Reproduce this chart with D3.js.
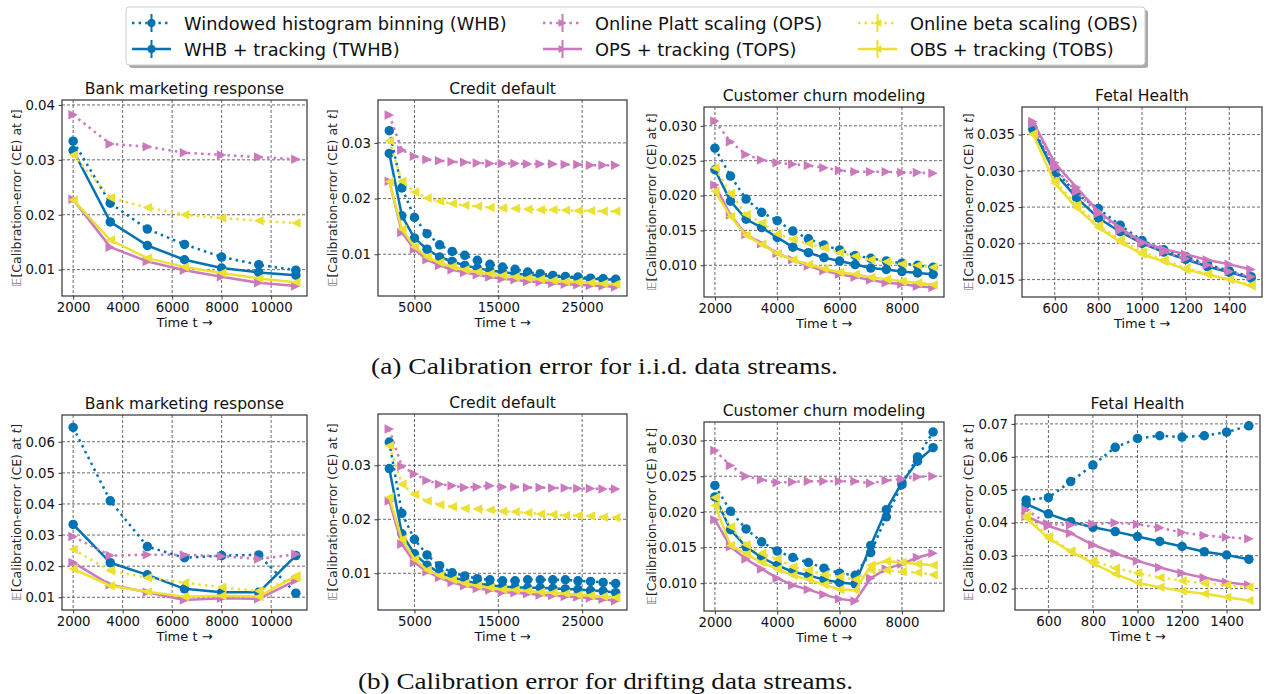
<!DOCTYPE html>
<html><head><meta charset="utf-8">
<script src="https://cdn.jsdelivr.net/npm/d3@7/dist/d3.min.js"></script>
<style>body{margin:0;background:#fff} svg{display:block}</style>
</head><body>
<svg id="chart" width="1269" height="694"></svg>
<script>
// ---------------- data ----------------
const timesBank = [2000, 3500, 5000, 6500, 8000, 9500, 11000];
const timesCredit = [2000, 3500, 5000, 6500, 8000, 9500, 11000, 12500, 14000, 15500, 17000, 18500, 20000, 21500, 23000, 24500, 26000, 27500, 29000];
const timesChurn = [2000, 2500, 3000, 3500, 4000, 4500, 5000, 5500, 6000, 6500, 7000, 7500, 8000, 8500, 9000];
const timesFetal = [500, 600, 700, 800, 900, 1000, 1100, 1200, 1300, 1400, 1500];

const seriesKeys = ["WHB", "TWHB", "OPS", "TOPS", "OBS", "TOBS"];
const legendLabels = ["Windowed histogram binning (WHB)", "WHB + tracking (TWHB)", "Online Platt scaling (OPS)", "OPS + tracking (TOPS)", "Online beta scaling (OBS)", "OBS + tracking (TOBS)"];
const panelTitles = ["Bank marketing response", "Credit default", "Customer churn modeling", "Fetal Health"];
const captions = ["(a) Calibration error for i.i.d. data streams.", "(b) Calibration error for drifting data streams."];

// i.i.d. streams
const bankIidWHB = [0.0334, 0.0221, 0.0174, 0.0146, 0.0123, 0.0109, 0.0099];
const bankIidTWHB = [0.0317, 0.0187, 0.0144, 0.0118, 0.0103, 0.0095, 0.0090];
const bankIidOPS = [0.0382, 0.0329, 0.0324, 0.0313, 0.0309, 0.0305, 0.0301];
const bankIidTOPS = [0.0228, 0.0141, 0.0115, 0.0099, 0.0087, 0.0076, 0.0070];
const bankIidOBS = [0.0309, 0.0231, 0.0213, 0.0200, 0.0194, 0.0189, 0.0185];
const bankIidTOBS = [0.0227, 0.0154, 0.0121, 0.0105, 0.0094, 0.0084, 0.0077];

const creditIidWHB = [0.0322, 0.0219, 0.0166, 0.0137, 0.0117, 0.0105, 0.0098, 0.0089, 0.0082, 0.0077, 0.0073, 0.0068, 0.0065, 0.0062, 0.0060, 0.0059, 0.0057, 0.0056, 0.0055];
const creditIidTWHB = [0.0281, 0.0169, 0.0129, 0.0109, 0.0095, 0.0087, 0.0080, 0.0075, 0.0071, 0.0068, 0.0065, 0.0063, 0.0062, 0.0060, 0.0059, 0.0057, 0.0056, 0.0055, 0.0054];
const creditIidOPS = [0.0350, 0.0287, 0.0276, 0.0270, 0.0268, 0.0266, 0.0265, 0.0264, 0.0263, 0.0263, 0.0263, 0.0262, 0.0262, 0.0262, 0.0261, 0.0261, 0.0260, 0.0260, 0.0260];
const creditIidTOPS = [0.0231, 0.0139, 0.0109, 0.0090, 0.0080, 0.0072, 0.0067, 0.0063, 0.0059, 0.0056, 0.0054, 0.0051, 0.0050, 0.0048, 0.0046, 0.0045, 0.0044, 0.0043, 0.0041];
const creditIidOBS = [0.0304, 0.0231, 0.0212, 0.0201, 0.0195, 0.0191, 0.0188, 0.0186, 0.0184, 0.0183, 0.0182, 0.0181, 0.0180, 0.0180, 0.0179, 0.0178, 0.0178, 0.0177, 0.0177];
const creditIidTOBS = [0.0230, 0.0145, 0.0113, 0.0095, 0.0085, 0.0078, 0.0072, 0.0068, 0.0065, 0.0062, 0.0059, 0.0057, 0.0055, 0.0053, 0.0051, 0.0050, 0.0049, 0.0047, 0.0046];

const churnIidWHB = [0.0268, 0.0228, 0.0195, 0.0176, 0.0164, 0.0149, 0.0138, 0.0129, 0.0122, 0.0114, 0.0110, 0.0106, 0.0103, 0.0100, 0.0097];
const churnIidTWHB = [0.0237, 0.0192, 0.0166, 0.0154, 0.0140, 0.0126, 0.0118, 0.0111, 0.0106, 0.0101, 0.0096, 0.0094, 0.0091, 0.0089, 0.0087];
const churnIidOPS = [0.0307, 0.0277, 0.0259, 0.0251, 0.0247, 0.0245, 0.0243, 0.0240, 0.0236, 0.0234, 0.0234, 0.0234, 0.0233, 0.0233, 0.0232];
const churnIidTOPS = [0.0215, 0.0172, 0.0144, 0.0131, 0.0117, 0.0108, 0.0099, 0.0092, 0.0087, 0.0083, 0.0079, 0.0075, 0.0073, 0.0070, 0.0068];
const churnIidOBS = [0.0240, 0.0203, 0.0173, 0.0161, 0.0145, 0.0137, 0.0131, 0.0125, 0.0118, 0.0113, 0.0108, 0.0105, 0.0102, 0.0100, 0.0097];
const churnIidTOBS = [0.0206, 0.0170, 0.0143, 0.0130, 0.0117, 0.0108, 0.0101, 0.0095, 0.0090, 0.0087, 0.0083, 0.0080, 0.0077, 0.0075, 0.0072];

const fetalIidWHB = [0.0359, 0.0302, 0.0268, 0.0248, 0.0225, 0.0204, 0.0191, 0.0182, 0.0171, 0.0162, 0.0154];
const fetalIidTWHB = [0.0357, 0.0297, 0.0263, 0.0235, 0.0216, 0.0200, 0.0188, 0.0178, 0.0168, 0.0160, 0.0152];
const fetalIidOPS = [0.0365, 0.0304, 0.0271, 0.0241, 0.0218, 0.0200, 0.0188, 0.0179, 0.0170, 0.0161, 0.0154];
const fetalIidTOPS = [0.0368, 0.0311, 0.0277, 0.0244, 0.0221, 0.0202, 0.0192, 0.0185, 0.0177, 0.0171, 0.0164];
const fetalIidOBS = [0.0350, 0.0286, 0.0253, 0.0225, 0.0205, 0.0188, 0.0177, 0.0166, 0.0158, 0.0150, 0.0143];
const fetalIidTOBS = [0.0351, 0.0283, 0.0249, 0.0222, 0.0202, 0.0185, 0.0175, 0.0164, 0.0157, 0.0150, 0.0141];

// drifting streams
const bankDriftWHB = [0.0646, 0.0410, 0.0263, 0.0227, 0.0234, 0.0236, 0.0113];
const bankDriftTWHB = [0.0334, 0.0211, 0.0172, 0.0127, 0.0116, 0.0116, 0.0234];
const bankDriftOPS = [0.0295, 0.0234, 0.0237, 0.0236, 0.0232, 0.0223, 0.0238];
const bankDriftTOPS = [0.0212, 0.0140, 0.0116, 0.0091, 0.0097, 0.0095, 0.0154];
const bankDriftOBS = [0.0254, 0.0185, 0.0163, 0.0147, 0.0132, 0.0120, 0.0163];
const bankDriftTOBS = [0.0191, 0.0137, 0.0118, 0.0102, 0.0105, 0.0102, 0.0169];

const creditDriftWHB = [0.0343, 0.0211, 0.0163, 0.0134, 0.0114, 0.0101, 0.0095, 0.0090, 0.0088, 0.0086, 0.0086, 0.0088, 0.0088, 0.0088, 0.0088, 0.0086, 0.0085, 0.0083, 0.0081];
const creditDriftTWHB = [0.0294, 0.0173, 0.0136, 0.0115, 0.0101, 0.0093, 0.0086, 0.0081, 0.0078, 0.0075, 0.0074, 0.0073, 0.0073, 0.0072, 0.0071, 0.0070, 0.0068, 0.0067, 0.0064];
const creditDriftOPS = [0.0367, 0.0298, 0.0284, 0.0272, 0.0265, 0.0262, 0.0259, 0.0260, 0.0262, 0.0260, 0.0260, 0.0259, 0.0259, 0.0258, 0.0258, 0.0257, 0.0257, 0.0256, 0.0256];
const creditDriftTOPS = [0.0234, 0.0154, 0.0120, 0.0103, 0.0092, 0.0083, 0.0077, 0.0072, 0.0069, 0.0065, 0.0064, 0.0062, 0.0060, 0.0059, 0.0057, 0.0056, 0.0054, 0.0052, 0.0049];
const creditDriftOBS = [0.0336, 0.0265, 0.0246, 0.0234, 0.0227, 0.0223, 0.0220, 0.0219, 0.0217, 0.0215, 0.0214, 0.0212, 0.0210, 0.0209, 0.0207, 0.0207, 0.0206, 0.0204, 0.0203];
const creditDriftTOBS = [0.0241, 0.0163, 0.0126, 0.0106, 0.0096, 0.0088, 0.0081, 0.0077, 0.0073, 0.0070, 0.0069, 0.0067, 0.0065, 0.0064, 0.0062, 0.0060, 0.0059, 0.0057, 0.0055];

const churnDriftWHB = [0.0237, 0.0201, 0.0176, 0.0158, 0.0145, 0.0136, 0.0129, 0.0121, 0.0114, 0.0111, 0.0143, 0.0193, 0.0238, 0.0277, 0.0312];
const churnDriftTWHB = [0.0221, 0.0175, 0.0151, 0.0136, 0.0125, 0.0116, 0.0111, 0.0105, 0.0101, 0.0099, 0.0153, 0.0203, 0.0241, 0.0271, 0.0290];
const churnDriftOPS = [0.0286, 0.0265, 0.0250, 0.0245, 0.0241, 0.0242, 0.0243, 0.0243, 0.0243, 0.0243, 0.0240, 0.0244, 0.0246, 0.0249, 0.0250];
const churnDriftTOPS = [0.0189, 0.0151, 0.0134, 0.0120, 0.0107, 0.0097, 0.0091, 0.0084, 0.0078, 0.0075, 0.0107, 0.0120, 0.0127, 0.0136, 0.0142];
const churnDriftOBS = [0.0220, 0.0179, 0.0154, 0.0142, 0.0134, 0.0123, 0.0118, 0.0112, 0.0109, 0.0105, 0.0118, 0.0118, 0.0116, 0.0115, 0.0112];
const churnDriftTOBS = [0.0209, 0.0153, 0.0141, 0.0129, 0.0120, 0.0111, 0.0105, 0.0098, 0.0091, 0.0090, 0.0125, 0.0131, 0.0129, 0.0127, 0.0125];

const fetalDriftWHB = [0.0469, 0.0476, 0.0525, 0.0575, 0.0629, 0.0656, 0.0664, 0.0660, 0.0664, 0.0675, 0.0694];
const fetalDriftTWHB = [0.0457, 0.0427, 0.0403, 0.0386, 0.0373, 0.0358, 0.0343, 0.0328, 0.0312, 0.0302, 0.0289];
const fetalDriftOPS = [0.0439, 0.0396, 0.0393, 0.0396, 0.0400, 0.0395, 0.0385, 0.0370, 0.0361, 0.0356, 0.0351];
const fetalDriftTOPS = [0.0419, 0.0390, 0.0368, 0.0333, 0.0307, 0.0284, 0.0264, 0.0247, 0.0233, 0.0219, 0.0211];
const fetalDriftOBS = [0.0421, 0.0358, 0.0314, 0.0285, 0.0262, 0.0247, 0.0234, 0.0224, 0.0216, 0.0211, 0.0204];
const fetalDriftTOBS = [0.0414, 0.0353, 0.0312, 0.0277, 0.0244, 0.0218, 0.0204, 0.0193, 0.0184, 0.0174, 0.0164];

// tick labels
const xTicksBank = [2000, 4000, 6000, 8000, 10000];
const xTicksCredit = [5000, 15000, 25000];
const xTicksChurn = [2000, 4000, 6000, 8000];
const xTicksFetal = [600, 800, 1000, 1200, 1400];
const yTicksBankIid = [0.01, 0.02, 0.03, 0.04];
const yTicksCreditIid = [0.01, 0.02, 0.03];
const yTicksChurnIid = [0.010, 0.015, 0.020, 0.025, 0.030];
const yTicksFetalIid = [0.015, 0.020, 0.025, 0.030, 0.035];
const yTicksBankDrift = [0.01, 0.02, 0.03, 0.04, 0.05, 0.06];
const yTicksCreditDrift = [0.01, 0.02, 0.03];
const yTicksChurnDrift = [0.010, 0.015, 0.020, 0.025, 0.030];
const yTicksFetalDrift = [0.02, 0.03, 0.04, 0.05, 0.06, 0.07];

// ---------------- styles / layout ----------------
const colors = {WHB: "#0173b2", TWHB: "#0173b2", OPS: "#cc78bc", TOPS: "#cc78bc", OBS: "#ece133", TOBS: "#ece133"};
const dotted = {WHB: true, TWHB: false, OPS: true, TOPS: false, OBS: true, TOBS: false};
const markers = {WHB: "o", TWHB: "o", OPS: ">", TOPS: ">", OBS: "<", TOBS: "<"};

const panels = [
  {title: panelTitles[0], times: timesBank, data: [bankIidWHB, bankIidTWHB, bankIidOPS, bankIidTOPS, bankIidOBS, bankIidTOBS], xTicks: xTicksBank, yTicks: yTicksBankIid, yFmt: ".2f", box: [62, 100, 307, 296], xLim: [1550, 11450], yLim: [0.0052, 0.0409], ylabX: 17},
  {title: panelTitles[1], times: timesCredit, data: [creditIidWHB, creditIidTWHB, creditIidOPS, creditIidTOPS, creditIidOBS, creditIidTOBS], xTicks: xTicksCredit, yTicks: yTicksCreditIid, yFmt: ".2f", box: [378, 100, 627, 296], xLim: [650, 30350], yLim: [0.0025, 0.0377], ylabX: 333},
  {title: panelTitles[2], times: timesChurn, data: [churnIidWHB, churnIidTWHB, churnIidOPS, churnIidTOPS, churnIidOBS, churnIidTOBS], xTicks: xTicksChurn, yTicks: yTicksChurnIid, yFmt: ".3f", box: [704, 107, 944, 297], xLim: [1650, 9350], yLim: [0.00545, 0.0327], ylabX: 652},
  {title: panelTitles[3], times: timesFetal, data: [fetalIidWHB, fetalIidTWHB, fetalIidOPS, fetalIidTOPS, fetalIidOBS, fetalIidTOBS], xTicks: xTicksFetal, yTicks: yTicksFetalIid, yFmt: ".3f", box: [1022, 107, 1262, 297], xLim: [450, 1550], yLim: [0.0126, 0.0388], ylabX: 969},
  {title: panelTitles[0], times: timesBank, data: [bankDriftWHB, bankDriftTWHB, bankDriftOPS, bankDriftTOPS, bankDriftOBS, bankDriftTOBS], xTicks: xTicksBank, yTicks: yTicksBankDrift, yFmt: ".2f", box: [62, 415, 307, 610], xLim: [1550, 11450], yLim: [0.0059, 0.0686], ylabX: 17},
  {title: panelTitles[1], times: timesCredit, data: [creditDriftWHB, creditDriftTWHB, creditDriftOPS, creditDriftTOPS, creditDriftOBS, creditDriftTOBS], xTicks: xTicksCredit, yTicks: yTicksCreditDrift, yFmt: ".2f", box: [378, 414, 627, 610], xLim: [650, 30350], yLim: [0.0032, 0.0395], ylabX: 333},
  {title: panelTitles[2], times: timesChurn, data: [churnDriftWHB, churnDriftTWHB, churnDriftOPS, churnDriftTOPS, churnDriftOBS, churnDriftTOBS], xTicks: xTicksChurn, yTicks: yTicksChurnDrift, yFmt: ".3f", box: [704, 422, 944, 611], xLim: [1650, 9350], yLim: [0.0061, 0.0326], ylabX: 652},
  {title: panelTitles[3], times: timesFetal, data: [fetalDriftWHB, fetalDriftTWHB, fetalDriftOPS, fetalDriftTOPS, fetalDriftOBS, fetalDriftTOBS], xTicks: xTicksFetal, yTicks: yTicksFetalDrift, yFmt: ".2f", box: [1015, 415, 1260, 610], xLim: [450, 1550], yLim: [0.0135, 0.0727], ylabX: 969}
];

const FONT = "'DejaVu Sans', sans-serif";
const LW = 2.5, MS = 9.5;
const svg = d3.select("#chart");

function markerPath(type, ms) {
  const h = ms / 2;
  if (type === "o") return d3.symbol(d3.symbolCircle, Math.PI * h * h)();
  if (type === ">") return `M${h},0L${-h},${-h}L${-h},${h}Z`;
  return `M${-h},0L${h},${-h}L${h},${h}Z`;
}

panels.forEach(p => {
  const [x0, y0, x1, y1] = p.box;
  const x = d3.scaleLinear().domain(p.xLim).range([x0, x1]);
  const y = d3.scaleLinear().domain(p.yLim).range([y1, y0]);
  const g = svg.append("g");

  // grid
  g.append("g").selectAll("line").data(p.xTicks).join("line")
    .attr("x1", d => x(d)).attr("x2", d => x(d)).attr("y1", y0).attr("y2", y1)
    .attr("stroke", "#444").attr("stroke-width", 0.8).attr("stroke-dasharray", "3,2");
  g.append("g").selectAll("line").data(p.yTicks).join("line")
    .attr("y1", d => y(d)).attr("y2", d => y(d)).attr("x1", x0).attr("x2", x1)
    .attr("stroke", "#444").attr("stroke-width", 0.8).attr("stroke-dasharray", "3,2");

  // axes
  const xa = g.append("g").attr("transform", `translate(0,${y1})`)
    .call(d3.axisBottom(x).tickValues(p.xTicks).tickFormat(d3.format("d")).tickSize(3.5).tickPadding(3.5));
  const ya = g.append("g").attr("transform", `translate(${x0},0)`)
    .call(d3.axisLeft(y).tickValues(p.yTicks).tickFormat(d3.format(p.yFmt)).tickSize(3.5).tickPadding(3.5));
  [xa, ya].forEach(a => {
    a.select(".domain").remove();
    a.selectAll(".tick line").attr("stroke", "#222").attr("stroke-width", 0.9);
    a.selectAll(".tick text").attr("fill", "#111").style("font-family", FONT).style("font-size", "13.3px");
  });

  // series
  const line = d3.line().x(d => x(d[0])).y(d => y(d[1]));
  seriesKeys.forEach((k, i) => {
    const pts = p.times.map((t, j) => [t, p.data[i][j]]);
    const s = g.append("g");
    s.append("path").datum(pts).attr("d", line)
      .attr("fill", "none").attr("stroke", colors[k]).attr("stroke-width", LW)
      .attr("stroke-dasharray", dotted[k] ? "2.5,4.1" : null)
      .attr("stroke-linejoin", "round");
    s.selectAll("path.m").data(pts).join("path").attr("class", "m")
      .attr("transform", d => `translate(${x(d[0])},${y(d[1])})`)
      .attr("d", markerPath(markers[k], MS)).attr("fill", colors[k]);
  });

  // spines
  g.append("rect").attr("x", x0).attr("y", y0).attr("width", x1 - x0).attr("height", y1 - y0)
    .attr("fill", "none").attr("stroke", "#333").attr("stroke-width", 1.2);

  // title
  g.append("text").attr("x", (x0 + x1) / 2).attr("y", y0 - 6).attr("text-anchor", "middle")
    .style("font-family", FONT).style("font-size", "15.6px").attr("fill", "#111").text(p.title);
  // x label
  g.append("text").attr("x", (x0 + x1) / 2).attr("y", y1 + 31).attr("text-anchor", "middle")
    .style("font-family", FONT).style("font-size", "13px").attr("fill", "#111").text("Time t  \u2192");
  // y label
  const yl = g.append("text").attr("transform", `translate(${p.ylabX + 4},${(y0 + y1) / 2}) rotate(-90)`)
    .attr("text-anchor", "middle").style("font-family", FONT).style("font-size", "12.5px").attr("fill", "#222");
  yl.append("tspan").attr("fill", "#777").text("\u{1D53C}");
  yl.append("tspan").text("[Calibration-error (CE) at ");
  yl.append("tspan").style("font-style", "italic").text("t");
  yl.append("tspan").text("]");
});

// captions
const capWidths = [467, 495];
const capX = [604.5, 605.5];
const capY = [374, 689];
captions.forEach((c, i) => {
  svg.append("text").attr("x", capX[i]).attr("y", capY[i]).attr("text-anchor", "middle")
    .attr("textLength", capWidths[i]).attr("lengthAdjust", "spacingAndGlyphs")
    .style("font-family", "'Liberation Serif', serif").style("font-size", "23px").attr("fill", "#111").text(c);
});

// legend
const leg = svg.append("g");
leg.append("rect").attr("x", 129).attr("y", 10).attr("width", 1019).attr("height", 58).attr("rx", 3).attr("fill", "#aaa");
leg.append("rect").attr("x", 126).attr("y", 7).attr("width", 1019).attr("height", 58).attr("rx", 3)
  .attr("fill", "#fff").attr("stroke", "#ccc").attr("stroke-width", 1);
const legTextX = [184, 595, 910];
const legRowY = [23, 49];
seriesKeys.forEach((k, i) => {
  const col = Math.floor(i / 2), row = i % 2;
  const tx = legTextX[col], cy = legRowY[row];
  const hx0 = tx - 52, hx1 = tx - 13, hc = (hx0 + hx1) / 2;
  const e = leg.append("g");
  e.append("line").attr("x1", hx0).attr("x2", hx1).attr("y1", cy).attr("y2", cy)
    .attr("stroke", colors[k]).attr("stroke-width", LW).attr("stroke-dasharray", dotted[k] ? "2.5,4.1" : null);
  e.append("line").attr("x1", hc).attr("x2", hc).attr("y1", cy - 9).attr("y2", cy + 9)
    .attr("stroke", colors[k]).attr("stroke-width", 2);
  e.append("path").attr("transform", `translate(${hc},${cy})`).attr("d", markerPath(markers[k], 8)).attr("fill", colors[k]);
  e.append("text").attr("x", tx).attr("y", cy + 6.5).style("font-family", FONT).style("font-size", "17.8px")
    .attr("fill", "#111").text(legendLabels[i]);
});
</script>
</body></html>
